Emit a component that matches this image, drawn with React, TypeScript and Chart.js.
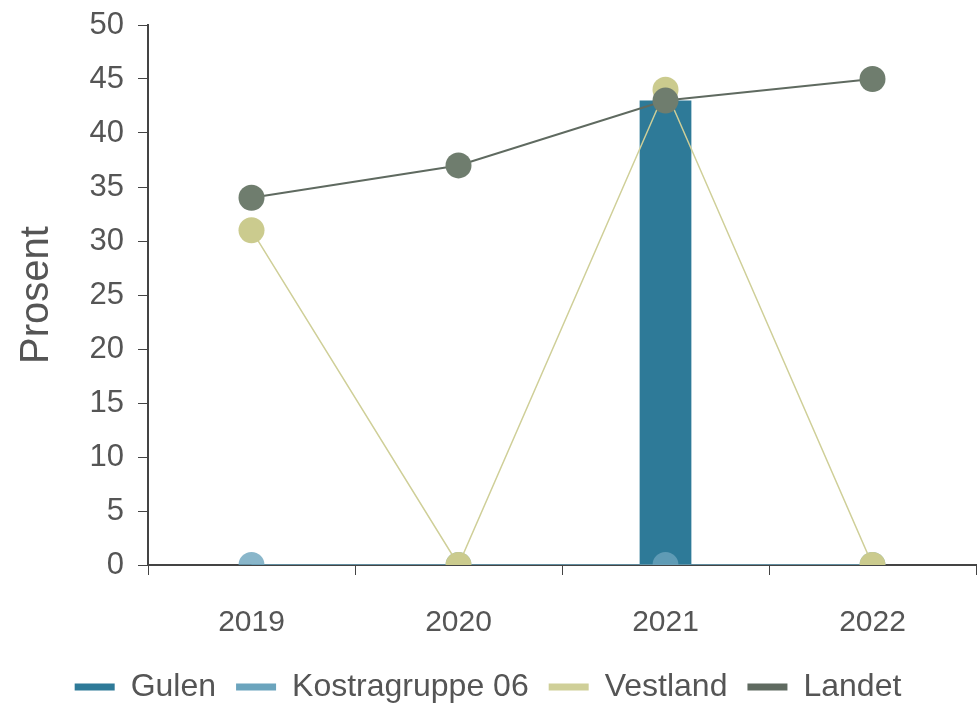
import React, { useEffect, useRef } from "react";
import { Chart, registerables } from "chart.js";

Chart.register(...registerables);

const categories = ["2019", "2020", "2021", "2022"];
const gulen = [0, 0, 43, 0];
const kostragruppe06 = [0, 0, 0, 0];
const vestland = [31, 0, 44, 0];
const landet = [34, 37, 43, 45];
const yTicks = [0, 5, 10, 15, 20, 25, 30, 35, 40, 45, 50];

const FONT = "'Liberation Sans', Arial, sans-serif";
const TEXT = "#555555";
const PLOT_TOP = 25;

const topFix = {
  id: "topFix",
  afterLayout(chart: any) {
    const ca = chart.chartArea;
    const y = chart.scales.y;
    if (!y || ca.top <= PLOT_TOP) return;
    ca.top = PLOT_TOP;
    ca.height = ca.bottom - PLOT_TOP;
    y.top = PLOT_TOP;
    y.height = y.bottom - PLOT_TOP;
    y.configure();
  },
};

export default function App() {
  const ref = useRef<HTMLCanvasElement | null>(null);
  useEffect(() => {
    document.body.style.margin = "0";
    const ctx = ref.current!;
    const chart = new Chart(ctx, {
      type: "bar",
      plugins: [topFix],
      data: {
        labels: categories,
        datasets: [
          {
            type: "bar",
            label: "Gulen",
            data: gulen,
            backgroundColor: "#2e7a98",
            borderWidth: 0,
            barPercentage: 0.25,
            categoryPercentage: 1,
            order: 4,
          },
          {
            type: "line",
            label: "Kostragruppe 06",
            data: kostragruppe06,
            borderColor: "#6ba4bd",
            backgroundColor: "rgba(107,164,189,0.8)",
            borderWidth: 1.5,
            pointRadius: 13,
            pointHoverRadius: 13,
            pointBorderWidth: 0,
            order: 3,
          },
          {
            type: "line",
            label: "Vestland",
            data: vestland,
            borderColor: "#cfcf98",
            backgroundColor: "#cbcb8e",
            borderWidth: 1.5,
            pointRadius: 13,
            pointHoverRadius: 13,
            pointBorderWidth: 0,
            order: 2,
          },
          {
            type: "line",
            label: "Landet",
            data: landet,
            borderColor: "#5f6a60",
            backgroundColor: "#6f7d6e",
            borderWidth: 2,
            pointRadius: 13,
            pointHoverRadius: 13,
            pointBorderWidth: 0,
            order: 1,
          },
        ],
      },
      options: {
        responsive: false,
        animation: false,
        layout: { autoPadding: false, padding: { left: 0, right: 1, top: 10, bottom: -8 } },
        plugins: {
          tooltip: { enabled: false },
          legend: {
            position: "bottom",
            labels: {
              sort: (a: any, b: any) => a.datasetIndex - b.datasetIndex,
              boxWidth: 40,
              boxHeight: 7,
              padding: 20,
              color: TEXT,
              font: { family: FONT, size: 32 },
              generateLabels: (c: any) =>
                c.data.datasets.map((d: any, i: number) => ({
                  text: d.label,
                  fillStyle: d.type === "bar" ? d.backgroundColor : d.borderColor,
                  strokeStyle: d.type === "bar" ? d.backgroundColor : d.borderColor,
                  lineWidth: 0,
                  hidden: false,
                  datasetIndex: i,
                  fontColor: TEXT,
                })),
            },
          },
        },
        scales: {
          x: {
            afterFit: (s: any) => {
              s.height = s.height - 20;
            },
            grid: { drawOnChartArea: false, offset: true, tickLength: 10, color: "#444", tickColor: "#444" },
            border: { color: "#444", width: 2 },
            ticks: { color: TEXT, font: { family: FONT, size: 30 }, padding: 30 },
          },
          y: {
            min: 0,
            max: 50,
            afterBuildTicks: (s: any) => {
              s.ticks = yTicks.map((v) => ({ value: v }));
            },
            afterFit: (s: any) => {
              s.width = 148;
            },
            grid: { drawOnChartArea: false, tickLength: 10, color: "#444", tickColor: "#444" },
            border: { color: "#444", width: 2 },
            ticks: { color: TEXT, font: { family: FONT, size: 31 }, padding: 14 },
            title: {
              display: true,
              text: "Prosent",
              color: TEXT,
              font: { family: FONT, size: 40 },
              padding: { top: 13, bottom: 0 },
            },
          },
        },
      },
    } as any);
    return () => chart.destroy();
  }, []);
  return <canvas ref={ref} width={977} height={705} />;
}
